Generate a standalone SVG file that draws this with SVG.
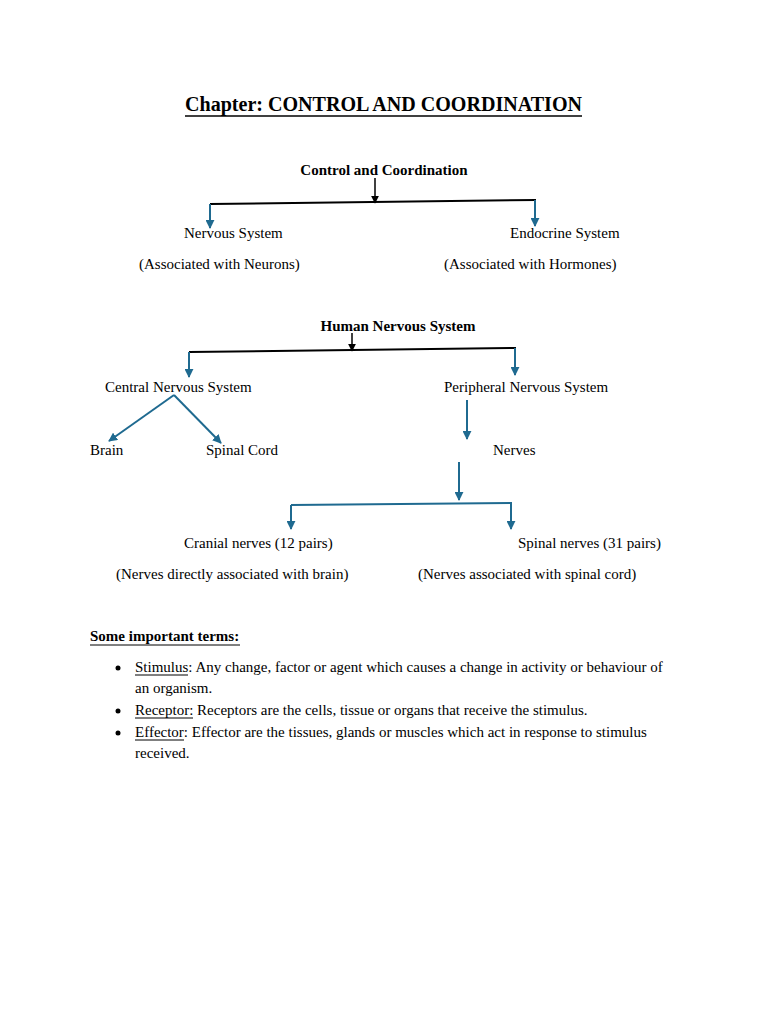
<svg xmlns="http://www.w3.org/2000/svg" width="768" height="1024" viewBox="0 0 768 1024">
<style>
text{font-family:"Liberation Serif","Times New Roman",serif;fill:#000;font-size:15px}
.b{font-weight:bold}
.t{font-size:20px;font-weight:bold}
.k{stroke:#000;stroke-width:2;fill:none}
.bl{stroke:#1f6a90;stroke-width:2;fill:none}
</style>
<defs>
<marker id="ak" viewBox="0 0 10 10" refX="9" refY="5" markerWidth="8" markerHeight="8" orient="auto" markerUnits="userSpaceOnUse"><path d="M0,0 L10,5 L0,10 z" fill="#000"/></marker>
<marker id="ab" viewBox="0 0 10 10" refX="9" refY="5" markerWidth="9" markerHeight="9" orient="auto" markerUnits="userSpaceOnUse"><path d="M0,0 L10,5 L0,10 z" fill="#1f6a90"/></marker>
</defs>
<rect width="768" height="1024" fill="#fff"/>
<g id="title">
<text class="t" x="185" y="111" textLength="397" lengthAdjust="spacingAndGlyphs">Chapter: CONTROL AND COORDINATION</text>
<line x1="185" y1="116" x2="582" y2="116" stroke="#000" stroke-width="1.5"/>
</g>
<g id="connectors">
<line class="k" x1="375" y1="178" x2="375" y2="203" marker-end="url(#ak)" style="stroke-width:1.5"/>
<line class="k" x1="210" y1="204" x2="536" y2="200"/>
<line class="bl" x1="210" y1="204" x2="210" y2="228" marker-end="url(#ab)"/>
<line class="bl" x1="535" y1="200" x2="535" y2="226" marker-end="url(#ab)"/>
<line class="k" x1="352" y1="333" x2="352" y2="351" marker-end="url(#ak)" style="stroke-width:1.5"/>
<line class="k" x1="189" y1="352" x2="516" y2="348"/>
<line class="bl" x1="189" y1="352" x2="189" y2="377" marker-end="url(#ab)"/>
<line class="bl" x1="515" y1="348" x2="515" y2="375" marker-end="url(#ab)"/>
<line class="bl" x1="174" y1="395" x2="109" y2="441" marker-end="url(#ab)"/>
<line class="bl" x1="174" y1="395" x2="221" y2="443" marker-end="url(#ab)"/>
<line class="bl" x1="467" y1="400" x2="467" y2="439" marker-end="url(#ab)"/>
<line class="bl" x1="459" y1="462" x2="459" y2="500" marker-end="url(#ab)"/>
<line class="bl" x1="291" y1="505" x2="512" y2="503"/>
<line class="bl" x1="291" y1="505" x2="291" y2="529" marker-end="url(#ab)"/>
<line class="bl" x1="511" y1="503" x2="511" y2="529" marker-end="url(#ab)"/>
</g>
<g id="n-control"><text class="b" x="384" y="175" text-anchor="middle">Control and Coordination</text></g>
<g id="n-nervous"><text x="184" y="238">Nervous System</text><text x="139" y="269">(Associated with Neurons)</text></g>
<g id="n-endocrine"><text x="510" y="238">Endocrine System</text><text x="444" y="269">(Associated with Hormones)</text></g>
<g id="n-human"><text class="b" x="398" y="331" text-anchor="middle">Human Nervous System</text></g>
<g id="n-cns"><text x="105" y="392">Central Nervous System</text></g>
<g id="n-pns"><text x="444" y="392">Peripheral Nervous System</text></g>
<g id="n-brain"><text x="90" y="455">Brain</text></g>
<g id="n-spinalcord"><text x="206" y="455">Spinal Cord</text></g>
<g id="n-nerves"><text x="493" y="455">Nerves</text></g>
<g id="n-cranial"><text x="184" y="548">Cranial nerves (12 pairs)</text><text x="116" y="579">(Nerves directly associated with brain)</text></g>
<g id="n-spinalnerves"><text x="518" y="548">Spinal nerves (31 pairs)</text><text x="418" y="579">(Nerves associated with spinal cord)</text></g>
<g id="terms">
<text class="b" x="90" y="641">Some important terms:</text>
<line x1="90" y1="645" x2="240" y2="645" stroke="#000" stroke-width="1"/>
<circle cx="118" cy="668" r="2.5" fill="#000"/>
<text x="135" y="672">Stimulus: Any change, factor or agent which causes a change in activity or behaviour of</text>
<line x1="135" y1="675" x2="188" y2="675" stroke="#000" stroke-width="1"/>
<text x="135" y="693">an organism.</text>
<circle cx="118" cy="711" r="2.5" fill="#000"/>
<text x="135" y="715">Receptor: Receptors are the cells, tissue or organs that receive the stimulus.</text>
<line x1="135" y1="718" x2="193" y2="718" stroke="#000" stroke-width="1"/>
<circle cx="118" cy="733" r="2.5" fill="#000"/>
<text x="135" y="737">Effector: Effector are the tissues, glands or muscles which act in response to stimulus</text>
<line x1="135" y1="740" x2="184" y2="740" stroke="#000" stroke-width="1"/>
<text x="135" y="758">received.</text>
</g>
</svg>
